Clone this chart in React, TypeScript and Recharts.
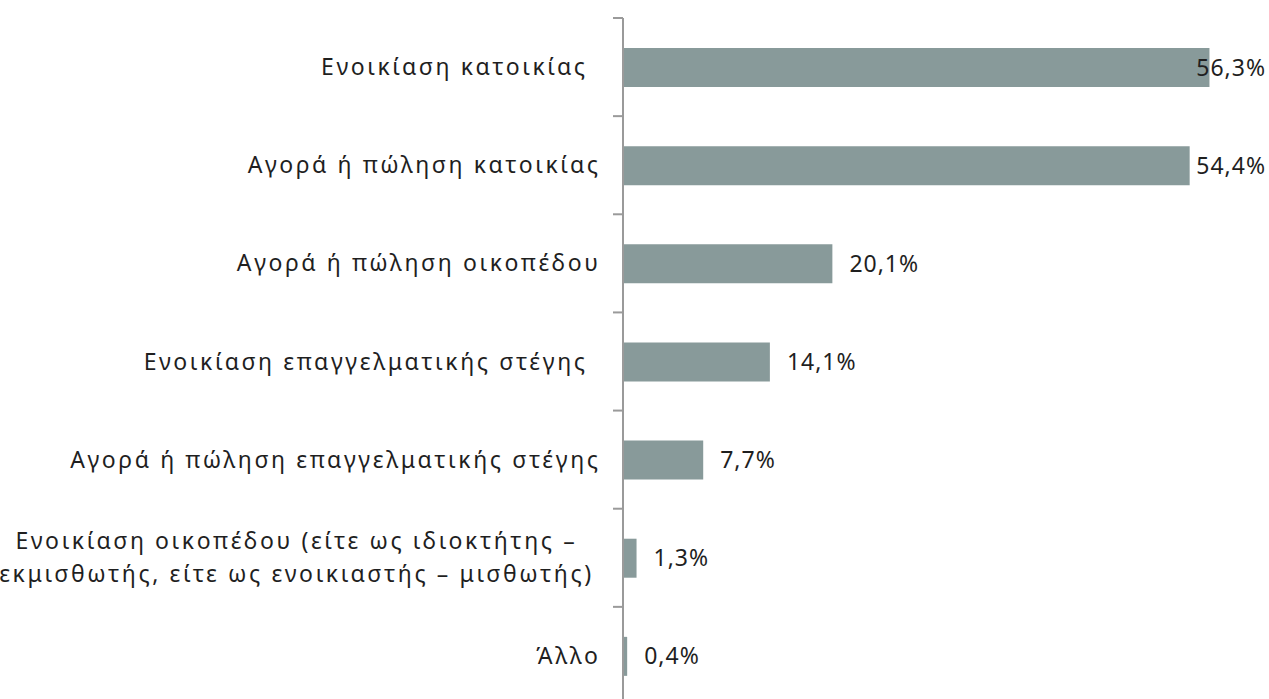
import React from "react";
import { BarChart, Bar, XAxis, YAxis, LabelList } from "recharts";

const categories: string[] = [
  "Ενοικίαση  κατοικίας",
  "Αγορά ή πώληση κατοικίας",
  "Αγορά ή πώληση οικοπέδου",
  "Ενοικίαση  επαγγελματικής στέγης",
  "Αγορά ή πώληση επαγγελματικής  στέγης",
  "Ενοικίαση  οικοπέδου (είτε ως ιδιοκτήτης –\nεκμισθωτής, είτε ως ενοικιαστής  – μισθωτής)",
  "Άλλο",
];
const shares: number[] = [56.3, 54.4, 20.1, 14.1, 7.7, 1.3, 0.4];
const trailingGap: number[] = [13, 0, 0, 13, 0, 0, 0];

const data = categories.map((name, i) => ({ name, value: shares[i] }));

const CHART_W = 1269;
const CHART_H = 720;
const MARGIN = { top: 18, right: 21, bottom: 15, left: 0 };
const BAND = (CHART_H - MARGIN.top - MARGIN.bottom) / categories.length;
const AXIS_X = 623;
const FONT = "Noto Sans";
const FONT_SIZE = 23;
const CAT_SPACING = 2.6;
const VAL_SPACING = 1;
const TEXT = "#1f1f1f";
const AXIS = "#9a9a9a";

let ctx: CanvasRenderingContext2D | null = null;
const measure = (s: string, spacing: number): number => {
  if (!ctx) ctx = document.createElement("canvas").getContext("2d");
  if (!ctx) return s.length * 12;
  ctx.font = `${FONT_SIZE}px "${FONT}"`;
  return ctx.measureText(s).width + s.length * spacing;
};

const fmt = (v: number) => v.toFixed(1).replace(".", ",") + "%";

// category labels, with tick marks drawn on the band boundaries
const CategoryTick = (props: any) => {
  const { x, y, payload, index } = props;
  const lines: string[] = String(payload.value).split("\n");
  const shift = trailingGap[index] || 0;
  const marks = [y - BAND / 2];
  if (index === categories.length - 1) marks.push(y + BAND / 2);
  const tickMarks = marks.map((my, i) => (
    <line key={"m" + i} x1={AXIS_X - 10} x2={AXIS_X} y1={my} y2={my} stroke={AXIS} strokeWidth={2} />
  ));
  const textProps = {
    fill: TEXT,
    fontFamily: FONT,
    fontSize: FONT_SIZE,
    letterSpacing: CAT_SPACING,
  };
  if (lines.length === 1) {
    return (
      <g>
        {tickMarks}
        <text x={x - shift + CAT_SPACING} y={y} dy="0.35em" textAnchor="end" {...textProps}>
          {lines[0]}
        </text>
      </g>
    );
  }
  const widest = Math.max(...lines.map((l) => measure(l, CAT_SPACING)));
  const cx = x - widest / 2;
  const lh = 33;
  return (
    <g>
      {tickMarks}
      <text x={cx} y={y} textAnchor="middle" {...textProps}>
        {lines.map((l, i) => (
          <tspan key={i} x={cx} y={y + (i - (lines.length - 1) / 2) * lh} dy="0.35em">
            {l}
          </tspan>
        ))}
      </text>
    </g>
  );
};

const ValueLabel = (props: any) => {
  const { x, y, width, height, value } = props;
  const s = fmt(value);
  const w = measure(s, VAL_SPACING);
  const right = CHART_W - 3;
  let tx = x + width + 17;
  if (tx + w > right) tx = right - w;
  return (
    <text x={tx} y={y + height / 2} dy="0.35em" fill={TEXT} fontFamily={FONT}
      fontSize={FONT_SIZE} letterSpacing={VAL_SPACING}>
      {s}
    </text>
  );
};

export default function App() {
  return (
    <div style={{ position: "absolute", left: 0, top: 0, width: CHART_W, height: CHART_H, background: "#fff" }}>
      <BarChart width={CHART_W} height={CHART_H} data={data} layout="vertical" margin={MARGIN}>
        <XAxis type="number" domain={[0, 60]} hide />
        <YAxis
          type="category"
          dataKey="name"
          width={AXIS_X}
          axisLine={{ stroke: AXIS, strokeWidth: 2 }}
          tickLine={false}
          tickSize={10}
          tickMargin={15}
          tick={<CategoryTick />}
          interval={0}
        />
        <Bar dataKey="value" fill="#889a9a" barSize={39} isAnimationActive={false}>
          <LabelList dataKey="value" content={<ValueLabel />} />
        </Bar>
      </BarChart>
    </div>
  );
}
